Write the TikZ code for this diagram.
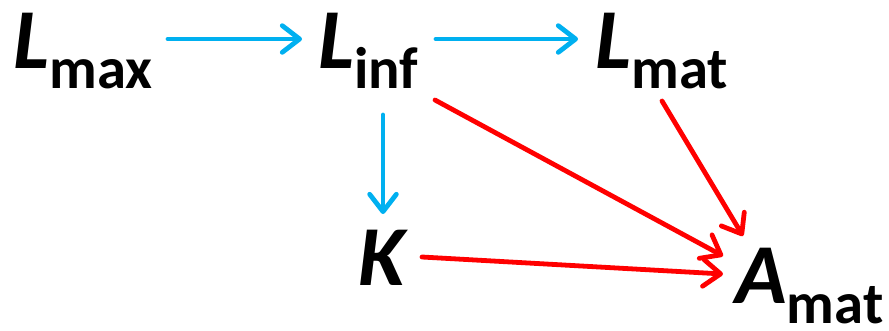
\documentclass[tikz,border=0pt]{standalone}
\usepackage{fontspec}
\setmainfont{Carlito}
\usetikzlibrary{arrows.meta,calc}
\definecolor{cblue}{RGB}{0,176,240}
\definecolor{cred}{RGB}{255,0,0}
\newcommand{\varsub}[2]{\textbf{\textit{#1}}\raisebox{-15pt}{\fontsize{44}{44}\selectfont\bfseries #2}}
\begin{document}
\begin{tikzpicture}[x=0.75pt,y=-0.75pt,
  lbl/.style={anchor=base west,inner sep=0pt,font=\fontsize{64}{64}\selectfont},
  conn/.style={line width=3.6pt,line cap=round,line join=round,
    -{Straight Barb[length=13pt,width=20pt,line cap=round,line join=round]}},
  bluearr/.style={conn,draw=cblue},
  redarr/.style={conn,draw=cred}]
\useasboundingbox (0,0) rectangle (889,330);
\node[lbl] (lmax) at (13,68) {\varsub{L}{max}};
\node[lbl] (linf) at (318,68) {\varsub{L}{inf}};
\node[lbl] (lmat) at (595,68) {\varsub{L}{mat}};
\node[lbl] (k) at (358,285) {\textbf{\textit{K}}};
\node[lbl] (amat) at (735,303) {\varsub{A}{mat}};
\draw[bluearr] ($(lmax.base west)+(155,-29)$) -- ($(linf.base west)+(-16,-29)$);
\draw[bluearr] ($(linf.base west)+(118,-29)$) -- ($(lmat.base west)+(-17,-29)$);
\draw[bluearr] ($(linf.base west)+(65,47)$) -- ($(k.base west)+(25,-71)$);
\draw[redarr] ($(linf.base west)+(117,32)$) -- ($(amat.base west)+(-12,-47)$);
\draw[redarr] ($(lmat.base west)+(67,33)$) -- ($(amat.base west)+(8,-67)$);
\draw[redarr] ($(k.base west)+(64,-28)$) -- ($(amat.base west)+(-12,-29)$);
\end{tikzpicture}
\end{document}
